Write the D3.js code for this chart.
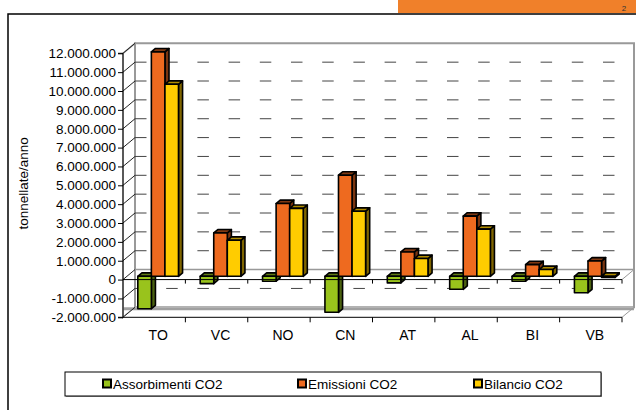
<!DOCTYPE html>
<html>
<head>
<meta charset="utf-8">
<script src="https://cdn.jsdelivr.net/npm/d3@7"></script>
<style>
    html, body { margin: 0; padding: 0; background: #fff; }
    svg { display: block; font-family: 'Liberation Sans', Arial, sans-serif; }
</style>
</head>
<body>
<div id="chart"></div>
<script>
'use strict';

const categories = ['TO', 'VC', 'NO', 'CN', 'AT', 'AL', 'BI', 'VB'];
const seriesNames = ['Assorbimenti CO2', 'Emissioni CO2', 'Bilancio CO2'];
const assorbimenti = [-1720000, -390000, -260000, -1910000, -350000, -690000, -260000, -870000];
const emissioni = [11900000, 2300000, 3860000, 5360000, 1290000, 3190000, 620000, 810000];
const bilancio = [10180000, 1910000, 3600000, 3450000, 940000, 2500000, 360000, -60000];
const yTicks = [-2000000, -1000000, 0, 1000000, 2000000, 3000000, 4000000, 5000000,
    6000000, 7000000, 8000000, 9000000, 10000000, 11000000, 12000000];

(function(doc) {

    const W = 636, H = 410;
    const plot = {left: 123, right: 622, top: 53.3, bottom: 317.3};
    const DX = 12, DY = -10;          // depth of the 3d box
    const barFront = 0.33, barDepth = 0.34;

    const colors = {
        'Assorbimenti CO2': {front: '#99c31c', side: '#4b6110', top: '#5f7a12'},
        'Emissioni CO2': {front: '#ee6a1f', side: '#7a3510', top: '#7f3812'},
        'Bilancio CO2': {front: '#ffcc00', side: '#7f6500', top: '#b08c00'},
    };
    const values = {
        'Assorbimenti CO2': assorbimenti,
        'Emissioni CO2': emissioni,
        'Bilancio CO2': bilancio,
    };

    const locale = d3.formatLocale({decimal: ',', thousands: '.', grouping: [3], currency: ['', ''], minus: '-'});
    const fmt = locale.format(',d');

    const svg = d3.select('#chart').append('svg')
        .attr('width', W)
        .attr('height', H);

    // page decoration
    svg.append('rect').attr('x', 398).attr('y', 0).attr('width', W - 398).attr('height', 13)
        .attr('fill', '#f0802a');
    svg.append('text').attr('x', 624).attr('y', 11).attr('font-size', 8).attr('fill', '#333')
        .attr('text-anchor', 'middle').text('2');
    svg.append('rect').attr('x', 8).attr('y', 14).attr('width', 700).attr('height', 500)
        .attr('fill', 'none').attr('stroke', '#000').attr('stroke-width', 1.5);

    const y = d3.scaleLinear().domain([-2000000, 12000000]).range([plot.bottom, plot.top]);
    const x0 = d3.scaleBand().domain(categories).range([plot.left, plot.right]).padding(0);
    const x1 = d3.scaleBand().domain(seriesNames).range([0, x0.bandwidth()])
        .paddingInner(0).paddingOuter(0.8);

    const pts = (arr) => arr.map((p) => p.join(',')).join(' ');

    // walls and floor
    const box = svg.append('g');
    box.append('polygon')
        .attr('points', pts([[plot.left, plot.top], [plot.left + DX, plot.top + DY],
            [plot.left + DX, plot.bottom + DY], [plot.left, plot.bottom]]))
        .attr('fill', '#fff').attr('stroke', '#999').attr('stroke-width', 1.5);
    box.append('polygon')
        .attr('points', pts([[plot.left + DX, plot.top + DY], [plot.right + DX, plot.top + DY],
            [plot.right + DX, plot.bottom + DY], [plot.left + DX, plot.bottom + DY]]))
        .attr('fill', '#fff').attr('stroke', '#999').attr('stroke-width', 2);
    box.append('polygon')
        .attr('points', pts([[plot.left, plot.bottom], [plot.left + DX, plot.bottom + DY],
            [plot.right + DX, plot.bottom + DY], [plot.right, plot.bottom]]))
        .attr('fill', '#fff').attr('stroke', 'none');
    box.append('line')
        .attr('x1', plot.left).attr('y1', plot.bottom + DY + 1.5)
        .attr('x2', plot.right + DX).attr('y2', plot.bottom + DY + 1.5)
        .attr('stroke', '#a0a0a0').attr('stroke-width', 3);
    box.append('line')
        .attr('x1', plot.right).attr('y1', plot.bottom).attr('x2', plot.right + DX).attr('y2', plot.bottom + DY)
        .attr('stroke', '#999').attr('stroke-width', 1);
    box.append('line')
        .attr('x1', plot.left).attr('y1', plot.bottom).attr('x2', plot.right).attr('y2', plot.bottom)
        .attr('stroke', '#000').attr('stroke-width', 1);

    // gridlines on the back wall and side wall
    const grid = svg.append('g');
    yTicks.filter((v) => v !== 0 && v !== 12000000 && v !== -2000000).forEach((v) => {
        grid.append('line')
            .attr('x1', plot.left + DX).attr('x2', plot.right + DX)
            .attr('y1', y(v) + DY).attr('y2', y(v) + DY)
            .attr('stroke', '#444').attr('stroke-width', 1)
            .attr('stroke-dasharray', '11.5,19.7');
    });
    yTicks.forEach((v) => {
        grid.append('line')
            .attr('x1', plot.left).attr('y1', y(v))
            .attr('x2', plot.left + DX).attr('y2', y(v) + DY)
            .attr('stroke', '#222').attr('stroke-width', 1);
    });
    // zero plane, back edge
    grid.append('line')
        .attr('x1', plot.left + DX).attr('x2', plot.right + DX)
        .attr('y1', y(0) + DY).attr('y2', y(0) + DY)
        .attr('stroke', '#999').attr('stroke-width', 1.5);
    grid.append('line')
        .attr('x1', plot.right).attr('y1', y(0)).attr('x2', plot.right + DX).attr('y2', y(0) + DY)
        .attr('stroke', '#999').attr('stroke-width', 1);

    // bars
    const fx = DX * barFront, fy = DY * barFront;
    const bdx = DX * barDepth, bdy = DY * barDepth;
    const bars = svg.append('g').attr('stroke', '#000').attr('stroke-width', 1.6)
        .attr('stroke-linejoin', 'round');
    categories.forEach((cat, i) => {
        seriesNames.forEach((s) => {
            const v = values[s][i];
            const w = x1.bandwidth();
            const bx = x0(cat) + x1(s) + fx;
            const yt = y(Math.max(v, 0)) + fy;
            const yb = y(Math.min(v, 0)) + fy;
            const g = bars.append('g');
            g.append('polygon')
                .attr('points', pts([[bx + w, yt], [bx + w + bdx, yt + bdy], [bx + w + bdx, yb + bdy], [bx + w, yb]]))
                .attr('fill', colors[s].side);
            g.append('polygon')
                .attr('points', pts([[bx, yt], [bx + bdx, yt + bdy], [bx + w + bdx, yt + bdy], [bx + w, yt]]))
                .attr('fill', colors[s].top);
            g.append('rect')
                .attr('x', bx).attr('y', yt).attr('width', w).attr('height', Math.max(yb - yt, 0.5))
                .attr('fill', colors[s].front);
        });
    });

    // zero line (front edge) with category ticks
    svg.append('line')
        .attr('x1', plot.left).attr('x2', plot.right).attr('y1', y(0)).attr('y2', y(0))
        .attr('stroke', '#000').attr('stroke-width', 1);
    const tickXs = categories.map((c) => x0(c) + x0.bandwidth());
    tickXs.forEach((tx) => {
        svg.append('line').attr('x1', tx).attr('x2', tx).attr('y1', y(0)).attr('y2', y(0) + 4)
            .attr('stroke', '#000');
        svg.append('line').attr('x1', tx).attr('x2', tx).attr('y1', plot.bottom).attr('y2', plot.bottom + 5)
            .attr('stroke', '#000');
    });

    // y axis
    const yAxis = svg.append('g')
        .attr('transform', `translate(${plot.left}, 0)`)
        .call(d3.axisLeft(y).tickValues(yTicks).tickFormat(fmt).tickSize(5).tickPadding(2));
    yAxis.select('.domain').attr('stroke', '#000').attr('d', `M-5,${plot.top}H0V${plot.bottom}H-5`);
    yAxis.selectAll('text').attr('font-size', 13.5).attr('fill', '#000')
        .attr('font-family', "'Liberation Sans', Arial, sans-serif");

    // category labels
    svg.append('g').selectAll('text').data(categories).enter().append('text')
        .attr('x', (d) => x0(d) + x0.bandwidth() / 2 + 4)
        .attr('y', 340)
        .attr('text-anchor', 'middle')
        .attr('font-size', 14)
        .text((d) => d);

    // axis title
    svg.append('text')
        .attr('transform', `translate(28, ${(plot.top + plot.bottom) / 2 - 2}) rotate(-90)`)
        .attr('text-anchor', 'middle')
        .attr('font-size', 13.5)
        .text('tonnellate/anno');

    // legend
    const legend = svg.append('g');
    legend.append('rect').attr('x', 66).attr('y', 373).attr('width', 536).attr('height', 24)
        .attr('fill', '#999');
    legend.append('rect').attr('x', 65).attr('y', 372).attr('width', 536).attr('height', 24)
        .attr('fill', '#fff').attr('stroke', '#000').attr('stroke-width', 1);
    const legendX = [103, 298, 474];
    seriesNames.forEach((s, i) => {
        legend.append('rect').attr('x', legendX[i]).attr('y', 379.5).attr('width', 8).attr('height', 8)
            .attr('fill', colors[s].front).attr('stroke', '#000').attr('stroke-width', 2);
        legend.append('text').attr('x', legendX[i] + 10).attr('y', 388.5)
            .attr('font-size', 13.5).text(s);
    });

}(document));
</script>
</body>
</html>
